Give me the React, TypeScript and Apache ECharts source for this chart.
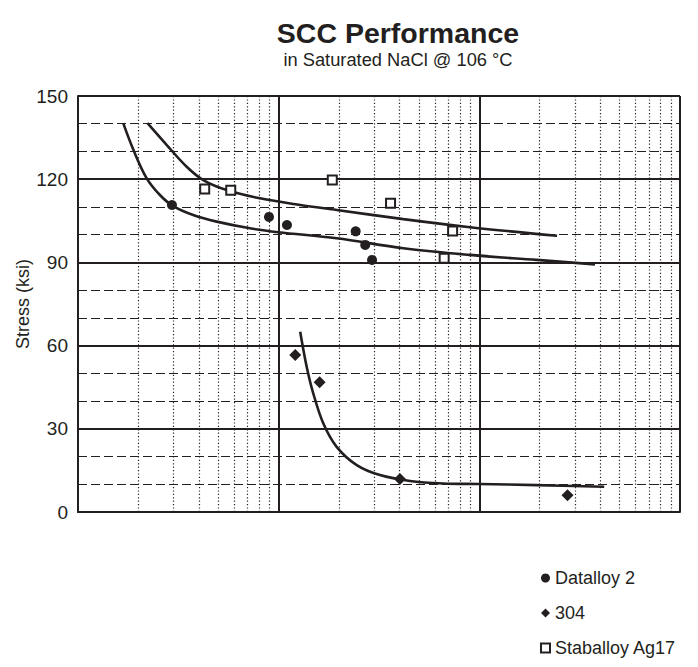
import React, { useEffect, useRef } from "react";
import * as echarts from "echarts";

const seriesNames = ["Datalloy 2", "304", "Staballoy Ag17"];

// scatter data: [time (log axis), stress ksi]
const datalloyPoints = [
  [2.94, 110.7], [8.95, 106.4], [11.0, 103.5], [24.2, 101.2], [27.0, 96.3], [29.2, 90.9],
];
const ss304Points = [
  [12.1, 56.6], [16.0, 46.8], [40.2, 11.9], [275, 6.0],
];
const staballoyPoints = [
  [4.28, 116.5], [5.77, 116.0], [18.5, 119.7], [36.1, 111.3], [73.6, 101.3], [66.8, 91.5],
];

// fitted curves
const datalloyCurve = [
  [1.68, 140.2], [1.89, 130.5], [2.2, 120.3], [2.56, 114.3], [2.98, 110.3], [3.75, 107.1],
  [4.91, 104.7], [7.19, 102.3], [9.96, 100.9], [19.45, 98.7], [41.8, 95.1], [89.8, 92.7],
  [193, 90.9], [377, 89.3],
];
const staballoyCurve = [
  [2.22, 140.2], [2.77, 132.3], [3.48, 124.5], [4.21, 119.7], [5.51, 116.1], [8.07, 113.1],
  [12.8, 110.7], [19.45, 108.9], [41.8, 105.6], [89.8, 102.7], [244, 99.6],
];
const ss304Curve = [
  [12.8, 65.0], [13.79, 52.4], [14.87, 42.8], [16.68, 32.0], [19.45, 23.5], [24.5, 16.9],
  [31.97, 13.3], [45.1, 11.2], [66.1, 10.3], [99.5, 10.1], [193, 9.7], [419, 9.1],
];

const decades = [1, 10, 100];
const minorMultipliers = [2, 3, 4, 5, 6, 7, 8, 9];

const FONT = "Liberation Sans, Arial, sans-serif";
const INK = "#231f20";

export default function App() {
  const ref = useRef<HTMLDivElement>(null);

  useEffect(() => {
    document.body.style.margin = "0";
    if (!ref.current) return;
    const chart = echarts.init(ref.current, undefined, { renderer: "svg" });

    const minorX: any[] = [];
    decades.forEach((d) => minorMultipliers.forEach((m) => minorX.push({ xAxis: d * m })));

    const curveSeries = (data: number[][]) => ({
      type: "line",
      data,
      smooth: 0.35,
      symbol: "none",
      silent: true,
      lineStyle: { color: INK, width: 2.6 },
      z: 3,
    });

    chart.setOption({
      animation: false,
      title: [
        {
          text: "SCC Performance",
          left: 393,
          top: 13,
          textAlign: "center",
          textStyle: { fontFamily: FONT, fontSize: 28.5, fontWeight: "bold", color: INK },
        },
        {
          text: "in Saturated NaCl @ 106 °C",
          left: 393,
          top: 45,
          textAlign: "center",
          textStyle: { fontFamily: FONT, fontSize: 18.3, fontWeight: "normal", color: INK },
        },
      ],
      graphic: [
        {
          type: "text",
          x: 23,
          y: 304,
          rotation: Math.PI / 2,
          style: {
            text: "Stress (ksi)",
            fontFamily: FONT,
            fontSize: 18,
            fill: INK,
            align: "center",
            verticalAlign: "middle",
          },
        },
      ],
      legend: {
        data: seriesNames,
        orient: "vertical",
        left: 535,
        top: 564,
        itemGap: 17,
        itemWidth: 9,
        itemHeight: 9,
        itemTextGap: 10,
        textStyle: { fontFamily: FONT, fontSize: 18, color: INK },
      },
      grid: { left: 78, top: 96, right: 18, bottom: 155, containLabel: false },
      xAxis: {
        type: "log",
        logBase: 10,
        min: 1,
        max: 1000,
        axisLabel: { show: false },
        axisTick: { show: false },
        axisLine: { show: true, lineStyle: { color: INK, width: 2 } },
        splitLine: { show: true, lineStyle: { color: INK, width: 2 } },
      },
      yAxis: {
        type: "value",
        min: 0,
        max: 150,
        interval: 30,
        axisLabel: { fontFamily: FONT, fontSize: 19, color: INK, margin: 10 },
        axisTick: { show: false },
        axisLine: { show: true, lineStyle: { color: INK, width: 2 } },
        splitLine: { show: true, lineStyle: { color: INK, width: 2 } },
        minorTick: { show: false, splitNumber: 3 },
        minorSplitLine: { show: true, lineStyle: { color: INK, width: 1.2, type: [9, 4] } },
      },
      series: [
        {
          name: "Datalloy 2",
          type: "scatter",
          data: datalloyPoints,
          symbol: "circle",
          symbolSize: 10,
          itemStyle: { color: INK, opacity: 1 },
          z: 5,
          markLine: {
            silent: true,
            symbol: "none",
            label: { show: false },
            lineStyle: { color: INK, width: 1.2, type: [1.2, 2.2] },
            data: minorX,
          },
        },
        {
          name: "304",
          type: "scatter",
          data: ss304Points,
          symbol: "diamond",
          symbolSize: 12,
          itemStyle: { color: INK, opacity: 1 },
          z: 5,
        },
        {
          name: "Staballoy Ag17",
          type: "scatter",
          data: staballoyPoints,
          symbol: "rect",
          symbolSize: 9,
          itemStyle: { color: "#ffffff", borderColor: INK, borderWidth: 2, opacity: 1 },
          z: 5,
        },
        curveSeries(datalloyCurve),
        curveSeries(staballoyCurve),
        curveSeries(ss304Curve),
      ],
    });

    return () => chart.dispose();
  }, []);

  return <div ref={ref} style={{ width: 698, height: 667 }} />;
}
